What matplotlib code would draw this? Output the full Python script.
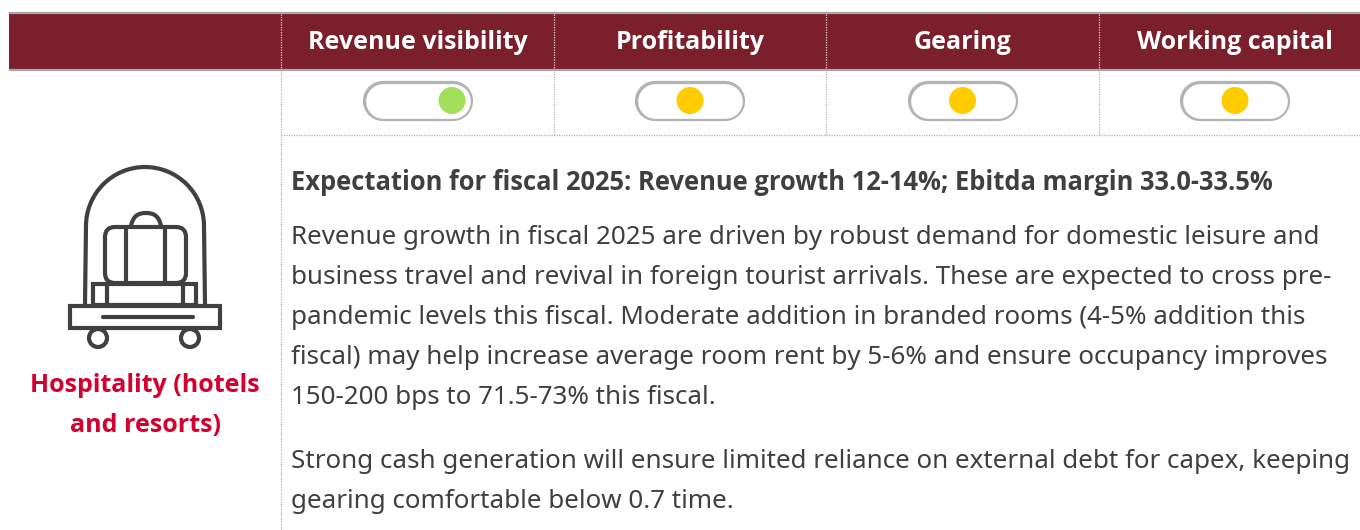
import matplotlib
matplotlib.use("Agg")
import matplotlib.pyplot as plt
from matplotlib.patches import Arc, Circle, FancyBboxPatch, PathPatch, Rectangle
from matplotlib.path import Path

plt.rcParams['font.family'] = ['Noto Sans', 'DejaVu Sans']
BOLD_FONT = ['Open Sans', 'DejaVu Sans']

# table content
headers = ["Revenue visibility", "Profitability", "Gearing", "Working capital"]
dial_state = ["right", "mid", "mid", "mid"]
dial_colors = {"right": "#a2df5a", "mid": "#ffcc00"}
sector_lines = ["Hospitality (hotels", "and resorts)"]
heading = "Expectation for fiscal 2025: Revenue growth 12-14%; Ebitda margin 33.0-33.5%"
para_1 = [
    "Revenue growth in fiscal 2025 are driven by robust demand for domestic leisure and",
    "business travel and revival in foreign tourist arrivals. These are expected to cross pre-",
    "pandemic levels this fiscal. Moderate addition in branded rooms (4-5% addition this",
    "fiscal) may help increase average room rent by 5-6% and ensure occupancy improves",
    "150-200 bps to 71.5-73% this fiscal.",
]
para_2 = [
    "Strong cash generation will ensure limited reliance on external debt for capex, keeping",
    "gearing comfortable below 0.7 time.",
]

MAROON = "#7a1f2b"
BORDER = "#a8a8a8"
DOTS = "#b5b5b5"
TEXT = "#3f3f3f"
ICON = "#404040"

fig = plt.figure(figsize=(13.6, 5.3), dpi=100)
ax = fig.add_axes([0, 0, 1, 1])
ax.set_xlim(0, 1360)
ax.set_ylim(530, 0)
ax.axis("off")

# header band
ax.add_patch(Rectangle((9, 14), 1351, 55, fc=MAROON, ec="none"))
ax.plot([9, 1360], [13, 13], color=BORDER, lw=1.6, solid_capstyle="butt")
ax.plot([9, 1360], [70, 70], color=BORDER, lw=1.6, solid_capstyle="butt")

col_x = [281, 554, 826, 1099]
col_mid = [418, 690, 962.5, 1235]
for mid, name in zip(col_mid, headers):
    ax.text(mid, 42.5, name, color="white", fontsize=18, fontweight="bold", family=BOLD_FONT, ha="center", va="center")

# grid lines
for i, x in enumerate(col_x):
    ax.plot([x, x], [14, 69], color="#e6d5d8", lw=0.9, ls=(0, (1, 1)))
    ax.plot([x, x], [71, 530 if i == 0 else 135], color=DOTS, lw=0.9, ls=(0, (1, 1)))
ax.plot([281, 1360], [135, 135], color=DOTS, lw=0.9, ls=(0, (1, 1)))

# toggles
for mid, state in zip(col_mid, dial_state):
    ax.plot([mid - 35, mid + 35], [100.5, 100.5], color="#b3b3b3", lw=29, solid_capstyle="round")
    ax.plot([mid - 35, mid + 35], [100.5, 100.5], color="white", lw=25, solid_capstyle="round")
    dot_x = mid + 34 if state == "right" else mid
    ax.add_patch(Circle((dot_x, 100.5), 13.5, fc=dial_colors[state], ec="none", zorder=3))

# bell cart icon
ic = dict(color=ICON, lw=3, solid_capstyle="round", solid_joinstyle="round")
ax.add_patch(Arc((145, 226), 118, 118, theta1=180, theta2=360, ec=ICON, lw=3))
ax.plot([86, 85], [226, 304], **ic)
ax.plot([204, 205], [226, 304], **ic)
ax.add_patch(FancyBboxPatch((113, 235), 65, 40, boxstyle="round,pad=8,rounding_size=10", fc="none", ec=ICON, lw=3))
ax.plot([126, 126], [228, 283], **ic)
ax.plot([165, 165], [228, 283], **ic)
handle = Path([(131, 226), (133, 216), (138, 213), (146, 213), (154, 213), (159, 216), (161, 226)],
              [Path.MOVETO] + [Path.CURVE4] * 6)
ax.add_patch(PathPatch(handle, fc="none", ec=ICON, lw=3))
ax.add_patch(Rectangle((93, 284), 103, 21, fc="none", ec=ICON, lw=3))
ax.plot([107, 107], [284, 305], **ic)
ax.plot([183, 183], [284, 305], **ic)
ax.add_patch(Rectangle((70, 306), 150, 22, fc="white", ec=ICON, lw=3, zorder=3))
ax.plot([103, 193], [317, 317], zorder=4, **ic)
ax.add_patch(Circle((98, 338), 9, fc="white", ec=ICON, lw=3))
ax.add_patch(Circle((190, 338), 9, fc="white", ec=ICON, lw=3))

# sector label
for y, line in zip([386, 426], sector_lines):
    ax.text(145, y, line, color="#d4002f", fontsize=18, fontweight="bold", family=BOLD_FONT, ha="center", va="center")

# body text
ax.text(291, 182, heading, color=TEXT, fontsize=18.4, fontweight="bold", family=BOLD_FONT, ha="left", va="center")
for y, line in zip([238, 278, 318, 358, 398], para_1):
    ax.text(291, y, line, color=TEXT, fontsize=18.7, ha="left", va="center")
for y, line in zip([462, 502], para_2):
    ax.text(291, y, line, color=TEXT, fontsize=18.7, ha="left", va="center")

fig.savefig("out.png", dpi=100)
